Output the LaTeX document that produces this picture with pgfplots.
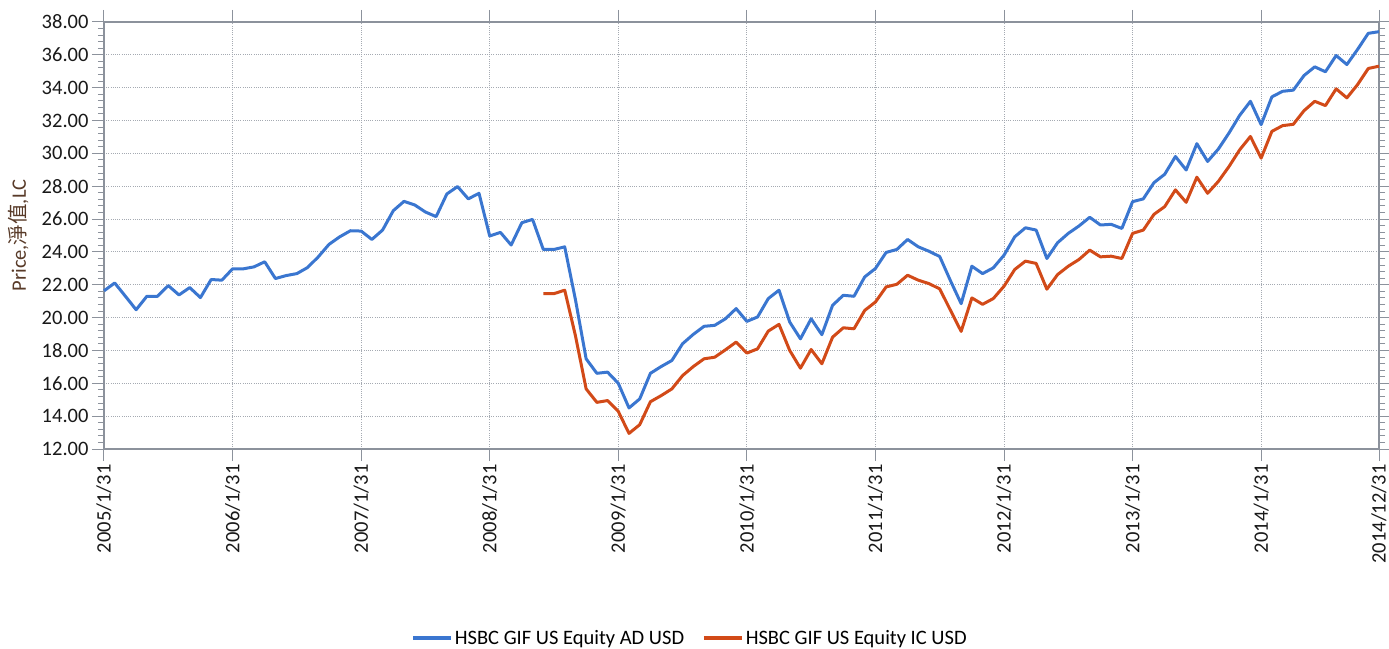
\documentclass[border=0pt]{standalone}
\usepackage{fontspec}
\setmainfont{Carlito}
\newfontfamily\cjk{Noto Sans CJK TC}
\usepackage{pgfplots}
\pgfplotsset{compat=1.18}
\definecolor{cblue}{RGB}{58,118,208}
\definecolor{cred}{RGB}{210,74,24}
\definecolor{axgray}{RGB}{140,146,156}
\definecolor{gridgray}{RGB}{165,170,178}
\definecolor{lblbrown}{RGB}{88,58,40}
\begin{document}
\begin{tikzpicture}[font=\fontsize{20.5}{24}\selectfont]
\begin{axis}[
  at={(0,0)}, anchor=south west,
  scale only axis, width=1275pt, height=427pt,
  xmin=0, xmax=119, ymin=12, ymax=38,
  xtick={0,12,24,36,48,60,72,84,96,108,119},
  xticklabels={2005/1/31,2006/1/31,2007/1/31,2008/1/31,2009/1/31,2010/1/31,2011/1/31,2012/1/31,2013/1/31,2014/1/31,2014/12/31},
  xticklabel style={rotate=90, anchor=east, text=black!90},
  ytick={12,14,...,38},
  minor y tick num=4,
  /pgf/number format/fixed,
  /pgf/number format/fixed zerofill,
  /pgf/number format/precision=2,
  /pgf/number format/assume math mode=true,
  yticklabel style={text=black!90},
  tick align=outside,
  major tick length=12pt, minor tick length=6pt,
  every tick/.style={axgray, line width=1pt},
  axis line style={axgray, line width=1.4pt},
  grid=major,
  major grid style={gridgray, line width=1pt, dash pattern=on 1pt off 1.2pt},
  ylabel={Price,{\cjk 淨值},LC},
  ylabel style={at={(axis description cs:-0.067,0.5)}, anchor=center, text=lblbrown},
  legend columns=2,
  legend style={draw=none, fill=none, at={(axis description cs:0.4596,-0.4426)}, anchor=center,
    /tikz/every even column/.append style={column sep=16pt}},
  legend image code/.code={\draw[#1, line width=3.6pt] (0pt,0pt) -- (38pt,0pt);},
  clip=false,
]
\addplot[cblue, line width=3pt, line join=round] coordinates {
(0,21.63)(1,22.11)(2,21.30)(3,20.48)(4,21.30)(5,21.30)(6,21.95)(7,21.38)(8,21.83)(9,21.22)
(10,22.32)(11,22.28)(12,22.97)(13,22.97)(14,23.09)(15,23.40)(16,22.38)(17,22.56)(18,22.68)(19,23.05)
(20,23.70)(21,24.46)(22,24.92)(23,25.29)(24,25.27)(25,24.76)(26,25.33)(27,26.51)(28,27.08)(29,26.86)
(30,26.43)(31,26.15)(32,27.53)(33,27.98)(34,27.23)(35,27.57)(36,24.97)(37,25.19)(38,24.42)(39,25.78)
(40,25.98)(41,24.15)(42,24.15)(43,24.31)(44,21.10)(45,17.49)(46,16.61)(47,16.68)(48,16.00)(49,14.50)
(50,15.05)(51,16.61)(52,17.02)(53,17.39)(54,18.41)(55,18.98)(56,19.47)(57,19.53)(58,19.93)(59,20.55)
(60,19.77)(61,20.04)(62,21.16)(63,21.67)(64,19.73)(65,18.71)(66,19.93)(67,18.96)(68,20.75)(69,21.36)
(70,21.30)(71,22.48)(72,22.99)(73,23.97)(74,24.15)(75,24.76)(76,24.31)(77,24.04)(78,23.72)(79,22.25)
(80,20.85)(81,23.13)(82,22.68)(83,23.03)(84,23.80)(85,24.92)(86,25.47)(87,25.33)(88,23.60)(89,24.56)
(90,25.13)(91,25.58)(92,26.11)(93,25.64)(94,25.68)(95,25.43)(96,27.06)(97,27.23)(98,28.22)(99,28.73)
(100,29.81)(101,28.99)(102,30.59)(103,29.51)(104,30.26)(105,31.24)(106,32.32)(107,33.17)(108,31.75)(109,33.44)
(110,33.78)(111,33.85)(112,34.74)(113,35.27)(114,34.97)(115,35.96)(116,35.41)(117,36.33)(118,37.31)(119,37.41)
};
\addlegendentry{HSBC GIF US Equity AD USD}
\addplot[cred, line width=3pt, line join=round] coordinates {
(41,21.46)(42,21.46)(43,21.67)(44,18.90)(45,15.66)(46,14.84)(47,14.95)(48,14.29)(49,12.95)
(50,13.48)(51,14.88)(52,15.25)(53,15.66)(54,16.47)(55,17.02)(56,17.49)(57,17.59)(58,18.04)(59,18.51)
(60,17.84)(61,18.10)(62,19.18)(63,19.59)(64,18.00)(65,16.92)(66,18.06)(67,17.19)(68,18.81)(69,19.38)
(70,19.32)(71,20.44)(72,20.95)(73,21.87)(74,22.03)(75,22.58)(76,22.28)(77,22.07)(78,21.75)(79,20.45)
(80,19.16)(81,21.20)(82,20.81)(83,21.16)(84,21.91)(85,22.93)(86,23.44)(87,23.30)(88,21.73)(89,22.62)
(90,23.13)(91,23.54)(92,24.11)(93,23.70)(94,23.74)(95,23.60)(96,25.13)(97,25.33)(98,26.29)(99,26.76)
(100,27.78)(101,27.02)(102,28.55)(103,27.57)(104,28.29)(105,29.20)(106,30.22)(107,31.03)(108,29.71)(109,31.34)
(110,31.69)(111,31.77)(112,32.60)(113,33.17)(114,32.91)(115,33.93)(116,33.38)(117,34.19)(118,35.17)(119,35.31)
};
\addlegendentry{HSBC GIF US Equity IC USD}
\end{axis}
\pgfresetboundingbox
\path[use as bounding box] (-104pt,-199pt) rectangle (1285pt,449pt);
\end{tikzpicture}
\end{document}
